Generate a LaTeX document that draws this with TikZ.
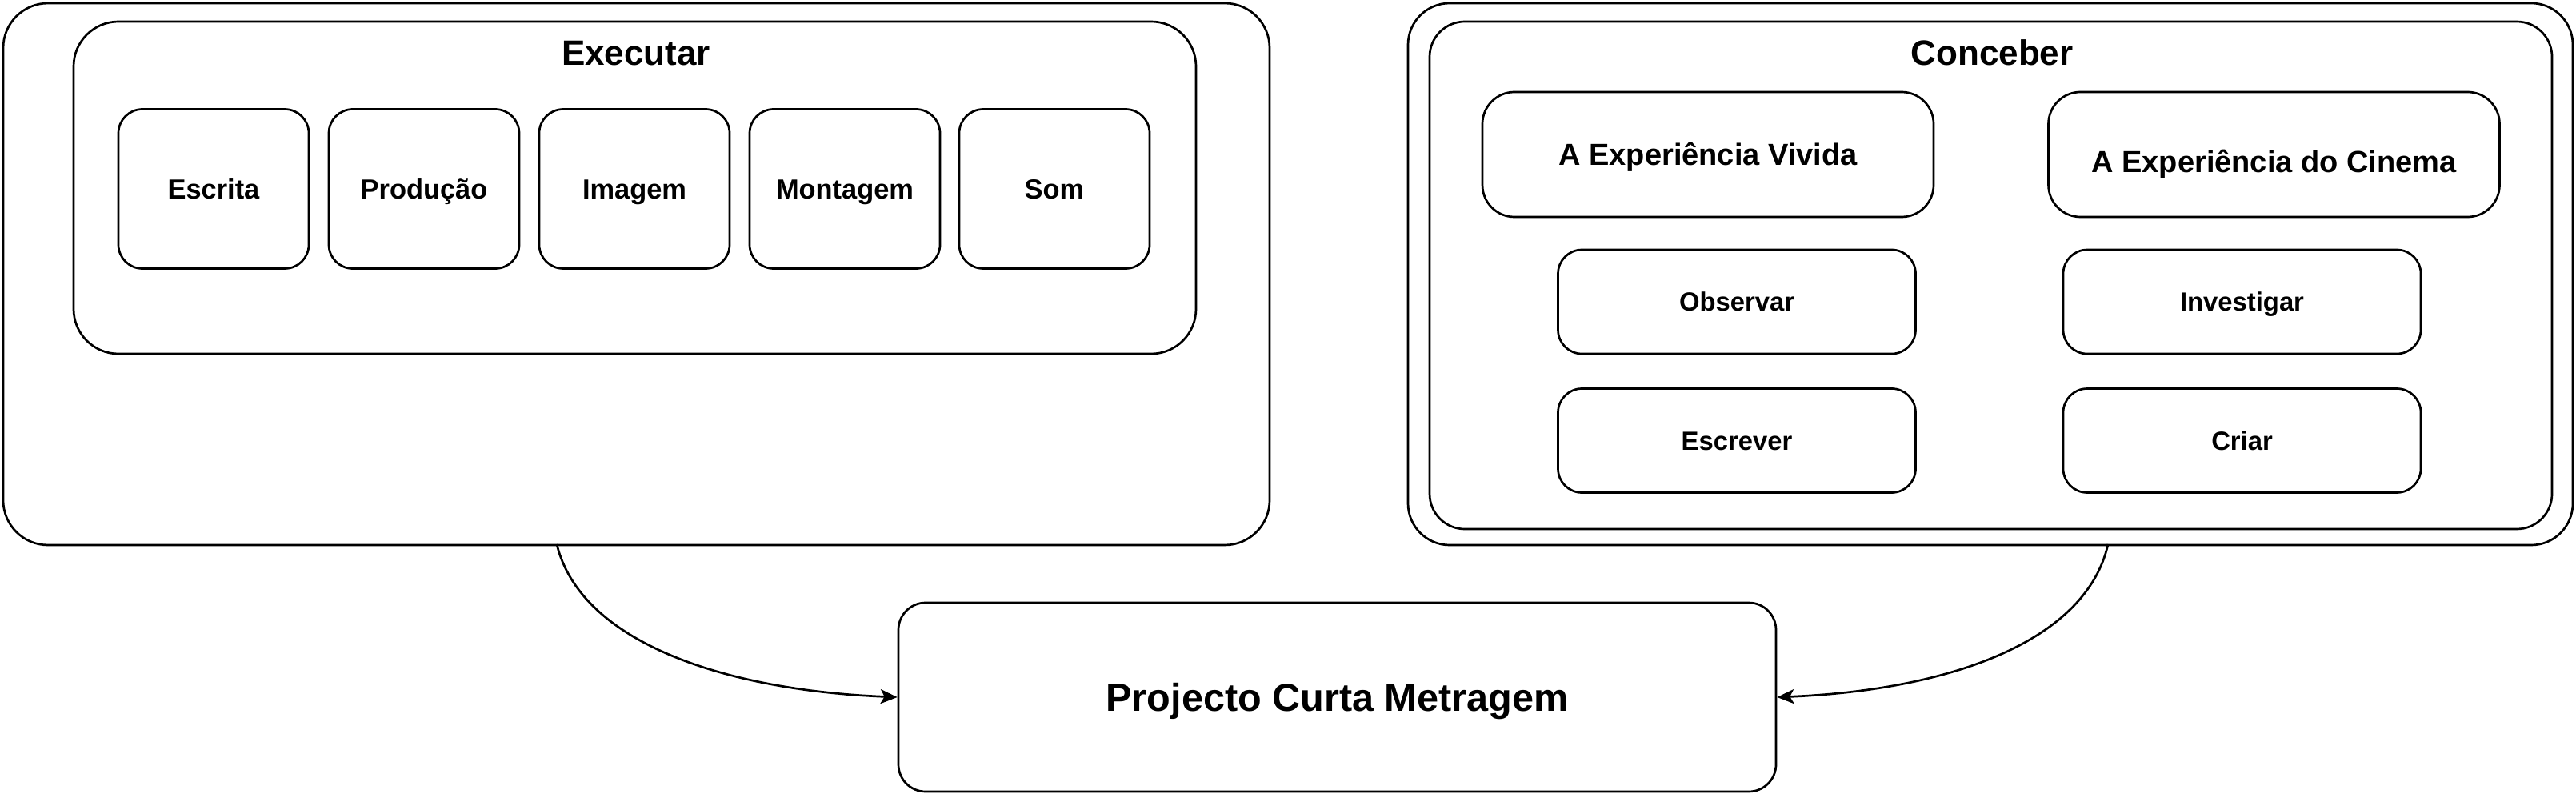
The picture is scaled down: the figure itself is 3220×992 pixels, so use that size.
\documentclass[tikz,border=0pt]{standalone}
\usepackage{fontspec}
\setmainfont{Liberation Sans}
\usetikzlibrary{arrows.meta}
\begin{document}
\begin{tikzpicture}[x=1pt,y=-1pt,
  box/.style={draw, line width=2.7pt, rounded corners=#1, inner sep=0pt, align=center, text depth=0pt},
  ftitle/.style={font=\fontsize{44pt}{50pt}\selectfont\bfseries, text height=31.7pt, text depth=0pt},
  fsmall/.style={font=\fontsize{34.4pt}{40pt}\selectfont\bfseries, text height=24.8pt},
  fbig/.style={font=\fontsize{38pt}{44pt}\selectfont\bfseries, text height=27.4pt, text depth=0pt},
  fmid/.style={font=\fontsize{32.8pt}{38pt}\selectfont\bfseries, text height=23.6pt},
  fproj/.style={font=\fontsize{48.6pt}{56pt}\selectfont\bfseries, text height=35pt},
  tbox/.style={box=30pt, minimum width=238pt, minimum height=199pt, fsmall},
  cbox/.style={box=30pt, minimum width=447pt, minimum height=130pt, fmid},
  ebox/.style={box=40pt, minimum width=564pt, minimum height=156pt, fbig},
  conn/.style={line width=2.7pt, -{Stealth[length=21pt,width=18pt,inset=5pt]}}
]
\useasboundingbox (0,0) rectangle (3220,992);
% left group
\node[box=56pt, minimum width=1583pt, minimum height=677pt] (outerL) at (795.5,342.5) {};
\node[box=56pt, minimum width=1403pt, minimum height=415pt] (inL) at (793.5,234.5) {};
\node[ftitle] (tExec) at (795,66) {Executar};
\node[tbox] (escrita) at (267,236) {Escrita};
\node[tbox] (producao) at (530,236) {Produção};
\node[tbox] (imagem) at (793,236) {Imagem};
\node[tbox] (montagem) at (1056,236) {Montagem};
\node[tbox] (som) at (1318,236) {Som};
% right group
\node[box=52pt, minimum width=1456pt, minimum height=677pt] (outerR) at (2488,342.5) {};
\node[box=44pt, minimum width=1403pt, minimum height=634pt] (inR) at (2488.5,344) {};
\node[ftitle] (tConc) at (2490,66) {Conceber};
\node[ebox] (vivida) at (2135,193) {A Experiência Vivida};
\node[ebox] (cinema) at (2842.5,193) {};
\node[fbig] (cinemaT) at (2842.5,202) {A Experiência do Cinema};
\node[cbox] (observar) at (2171,377) {Observar};
\node[cbox] (investigar) at (2802.5,377) {Investigar};
\node[cbox] (escrever) at (2171,550.5) {Escrever};
\node[cbox] (criar) at (2802.5,550.5) {Criar};
% project
\node[box=34pt, minimum width=1097pt, minimum height=236pt, fproj] (proj) at (1671.5,871) {Projecto Curta Metragem};
% connectors
\coordinate (sL) at (696,680);
\coordinate (sR) at (2635,680);
\draw[conn] (sL) .. controls (725,800) and (900,862) .. (proj.west);
\draw[conn] (sR) .. controls (2608,800) and (2440,862) .. (proj.east);
\end{tikzpicture}
\end{document}
